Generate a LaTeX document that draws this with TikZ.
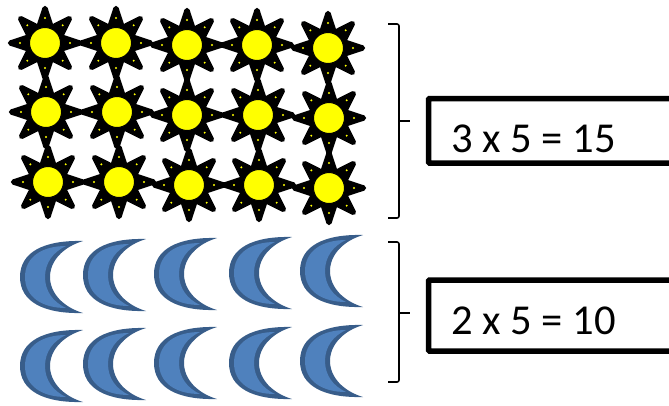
\documentclass[tikz,border=0pt]{standalone}
\usepackage{fontspec}
\setmainfont{Carlito}
\definecolor{moonfill}{HTML}{4F81BD}
\definecolor{moonline}{HTML}{385D8A}
\definecolor{sunyellow}{RGB}{255,255,0}
\tikzset{
  startip/.style={fill=black,draw=black,line width=5.4pt,line join=round},
  sundisc/.style={circle,fill=sunyellow,draw=black,line width=1pt,minimum size=31pt,inner sep=0pt},
  moonedge/.style={fill=moonline},
  moonface/.style={fill=moonfill},
  resultbox/.style={draw=black,line width=5.5pt,rounded corners=1pt,fill=white},
  resulttext/.style={anchor=base west,inner sep=0pt,font=\fontsize{42.6}{42.6}\selectfont},
  bracket/.style={draw=black,line width=1.6pt,rounded corners=2pt}
}
\newcommand{\sunat}[3]{%
  \begin{scope}[shift={(#1,#2)}]
    \path[startip] (90:34.5) -- (112.5:16.5) -- (135:34.5) -- (157.5:16.5) -- (180:34.5) -- (202.5:16.5)
      -- (225:34.5) -- (247.5:16.5) -- (270:34.5) -- (292.5:16.5) -- (315:34.5) -- (337.5:16.5)
      -- (0:34.5) -- (22.5:16.5) -- (45:34.5) -- (67.5:16.5) -- cycle;
    \foreach \a in {0,45,...,315}{\fill[sunyellow] (\a:25) circle (1.1pt);}
    \node[sundisc] (#3) at (0,0) {};
  \end{scope}}
\newcommand{\moonat}[2]{%
  \begin{scope}[shift={(#1,#2)}]
    \path[moonedge] (63,0) .. controls (24,-1) and (0,11) .. (0,36)
      .. controls (0,61) and (24,73) .. (63,72)
      .. controls (43,66) and (30,52) .. (30,36)
      .. controls (30,20) and (43,6) .. (63,0) -- cycle;
    \path[moonface] (46,5) .. controls (22,5) and (5,16) .. (5,36)
      .. controls (5,56) and (22,67) .. (46,67)
      .. controls (33,61) and (25,50) .. (25,36)
      .. controls (25,22) and (33,11) .. (46,5) -- cycle;
  \end{scope}}
\begin{document}
\begin{tikzpicture}[x=1pt,y=-1pt]
\useasboundingbox (0,0) rectangle (669,405);
\clip (0,0) rectangle (669,405);
\sunat{45}{43}{s11}\sunat{116}{43}{s12}\sunat{187}{45}{s13}\sunat{257}{45}{s14}\sunat{328}{48}{s15}
\sunat{46}{112}{s21}\sunat{117}{112}{s22}\sunat{187}{115}{s23}\sunat{258}{115}{s24}\sunat{329}{118}{s25}
\sunat{48}{182}{s31}\sunat{119}{182}{s32}\sunat{189}{185}{s33}\sunat{259}{185}{s34}\sunat{329}{188}{s35}
\moonat{20}{241}\moonat{83}{239}\moonat{154}{238}\moonat{229}{237}\moonat{300}{235}
\moonat{20}{330}\moonat{83}{328}\moonat{154}{327}\moonat{229}{327}\moonat{300}{325}
\coordinate (b1a) at (388,24);\coordinate (b1b) at (388,218);\coordinate (b1m) at (410,121);
\coordinate (b2a) at (388,242);\coordinate (b2b) at (388,382);\coordinate (b2m) at (410,313);
\draw[bracket] (b1a) -- (399,24) -- (399,218) -- (b1b);
\draw[bracket,rounded corners=0pt] (399,121) -- (b1m);
\draw[bracket] (b2a) -- (399,242) -- (399,382) -- (b2b);
\draw[bracket,rounded corners=0pt] (399,313) -- (b2m);
\draw[resultbox] (428.5,98.5) rectangle (690,163);
\draw[resultbox] (428.5,280) rectangle (690,351);
\node[resulttext] (t1) at (451,152) {3 x 5 = 15};
\node[resulttext] (t2) at (451,334) {2 x 5 = 10};
\end{tikzpicture}
\end{document}
